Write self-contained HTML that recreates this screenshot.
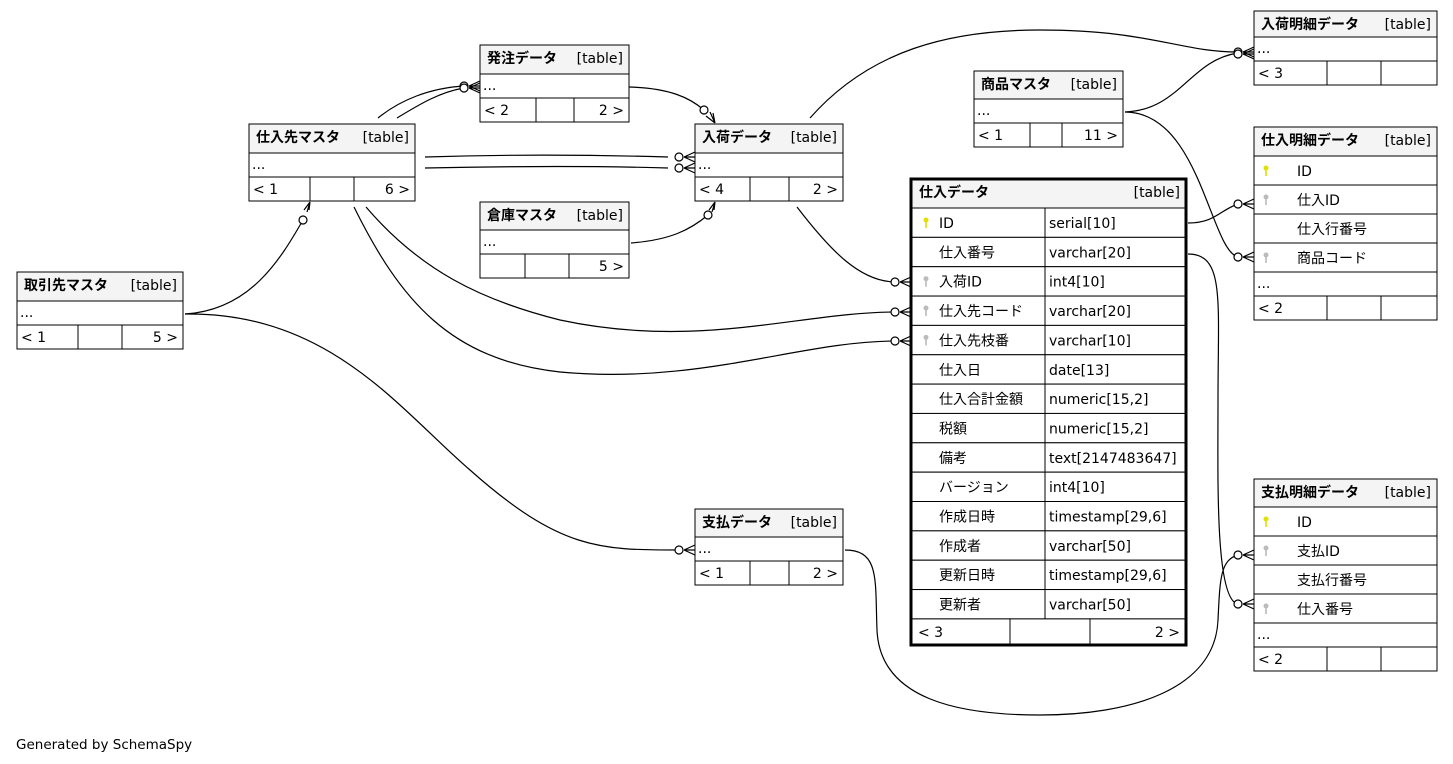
<!DOCTYPE html>
<html><head><meta charset="utf-8"><style>
html,body{margin:0;padding:0;background:#fff;width:1453px;height:764px;overflow:hidden}
svg text{font-family:"DejaVu Sans","Liberation Sans","Noto Sans CJK JP",sans-serif;font-size:14px;fill:#000}
</style></head><body>
<svg id="s" width="1453" height="764" xmlns="http://www.w3.org/2000/svg">
<g fill="none" stroke="#000" stroke-width="1.2">
<path d="M378,118 C400,100 430,88 464,86"/>
<path d="M397,118 C420,104 440,92 464,88"/>
<path d="M425,157 C520,154 600,155 668,157"/>
<path d="M425,168 C520,166 600,166 668,168"/>
<path d="M629,87 C670,88 690,98 704,110"/>
<path d="M631,243 C670,240 690,230 708,215"/>
<path d="M185,314 C250,310 280,260 303,220"/>
<path d="M185,314 C330,312 400,410 470,470 C560,550 600,550 678,550"/>
<path d="M366,207 C420,270 480,300 560,320 C700,350 800,312 896,312"/>
<path d="M354,207 C400,300 450,360 560,372 C700,385 800,341 896,341"/>
<path d="M797,207 C830,250 860,282 896,282"/>
<path d="M810,118 C870,50 950,30 1040,30 C1150,30 1180,52 1238,52"/>
<path d="M1125,112 C1180,110 1190,60 1238,53"/>
<path d="M1125,112 C1200,112 1210,250 1238,257"/>
<path d="M1188,223 C1215,223 1220,210 1238,204"/>
<path d="M1188,254 C1225,254 1218,300 1218,400 C1218,480 1215,600 1238,604"/>
<path d="M845,550 C880,550 875,580 877,630 C880,700 960,715 1040,715 C1130,715 1215,690 1218,620 C1220,580 1220,560 1238,555"/>
</g>
<g id="marks" fill="#fff" stroke="#000" stroke-width="1.2"></g>
<g id="tables"></g>
<text x="16" y="749" style="font-size:13.5px">Generated by SchemaSpy</text>
</svg>
<script>
var NS="http://www.w3.org/2000/svg";
function el(p,t,a,txt){var e=document.createElementNS(NS,t);for(var k in a)e.setAttribute(k,a[k]);if(txt!=null)e.textContent=txt;p.appendChild(e);return e;}
var T=document.getElementById('tables'),M=document.getElementById('marks');
// crow + circle, horizontal into table at x (table edge), direction d=+1 (pointing right)
function crowH(x,y){el(M,'circle',{cx:x-16,cy:y,r:4});el(M,'path',{d:'M'+(x-11)+','+y+' L'+x+','+(y-5)+' M'+(x-11)+','+y+' L'+x+','+y+' M'+(x-11)+','+y+' L'+x+','+(y+5),fill:'none'});}
function crowV(x,y,dy){ // dy=-1 means table above (arrow pointing up)
 var cy=y-dy*16; el(M,'circle',{cx:x,cy:cy,r:4});
 var vy=y-dy*11; el(M,'path',{d:'M'+x+','+vy+' L'+(x-5)+','+y+' M'+x+','+vy+' L'+x+','+y+' M'+x+','+vy+' L'+(x+5)+','+y,fill:'none'});}
crowH(480,86);crowH(480,88);crowH(695,157);crowH(695,168);crowH(1254,52);crowH(1254,54);
crowH(911,282);crowH(911,312);crowH(911,341);crowH(695,550);crowH(1254,204);crowH(1254,257);crowH(1254,555);crowH(1254,604);
el(M,'circle',{cx:704,cy:110,r:4});el(M,'path',{d:'M715,123 L710,112 M715,123 L706,116 M715,123 L713,113',fill:'none'});
el(M,'circle',{cx:708,cy:215,r:4});el(M,'path',{d:'M715,202 L709,210 M715,202 L712,212 M715,202 L714,210',fill:'none'});
el(M,'circle',{cx:303,cy:220,r:4});el(M,'path',{d:'M310,202 L304,210 M310,202 L307,212 M310,202 L309,210',fill:'none'});
function small(x,y,w,name,hh,l,mid,r,divs,rows){
 var g=el(T,'g',{});
 var rh=rows||[];
 el(g,'rect',{x:x,y:y,width:w,height:hh,fill:'#f4f4f4',stroke:'#000'});
 el(g,'text',{x:x+7,y:y+18,'font-weight':'bold'},name);
 el(g,'text',{x:x+w-6,y:y+18,'text-anchor':'end'},'[table]');
 var cy=y+hh;
 rh.forEach(function(r){el(g,'rect',{x:x,y:cy,width:w,height:29,fill:'#fff',stroke:'#000'});
  var kx=x+12; if(r[1]){var c=r[1];el(g,'circle',{cx:kx,cy:cy+12,r:2.5,fill:c,stroke:'none'});el(g,'rect',{x:kx-0.8,y:cy+12,width:1.6,height:8,fill:c,stroke:'none'});}
  el(g,'text',{x:x+43,y:cy+20},r[0]);cy+=29;});
 el(g,'rect',{x:x,y:cy,width:w,height:24,fill:'#fff',stroke:'#000'});
 el(g,'text',{x:x+3,y:cy+16},'...');cy+=24;
 el(g,'rect',{x:x,y:cy,width:w,height:24,fill:'#fff',stroke:'#000'});
 divs.forEach(function(d){el(g,'line',{x1:d,y1:cy,x2:d,y2:cy+24,stroke:'#000'});});
 if(l)el(g,'text',{x:x+4,y:cy+17},l);
 if(r)el(g,'text',{x:x+w-5,y:cy+17,'text-anchor':'end'},r);
}
small(480,45,149,'発注データ',29,'< 2','','2 >',[536,574]);
small(249,124,166,'仕入先マスタ',29,'< 1','','6 >',[310,354]);
small(695,124,148,'入荷データ',29,'< 4','','2 >',[750,789]);
small(480,202,149,'倉庫マスタ',28,'','','5 >',[525,569]);
small(17,272,166,'取引先マスタ',29,'< 1','','5 >',[78,122]);
small(974,71,149,'商品マスタ',28,'< 1','','11 >',[1030,1062]);
small(1254,11,183,'入荷明細データ',26,'< 3','','',[1327,1381]);
small(1254,127,183,'仕入明細データ',29,'< 2','','',[1327,1381],[['ID','#e0e000'],['仕入ID','#bbb'],['仕入行番号',null],['商品コード','#bbb']]);
small(1254,479,183,'支払明細データ',28,'< 2','','',[1327,1381],[['ID','#e0e000'],['支払ID','#bbb'],['支払行番号',null],['仕入番号','#bbb']]);
small(695,509,148,'支払データ',28,'< 1','','2 >',[750,789]);
// main table
(function(){var x=911,y=179,w=275;var g=el(T,'g',{});
 el(g,'rect',{x:x,y:y,width:w,height:29,fill:'#f4f4f4',stroke:'#000'});
 el(g,'text',{x:x+8,y:y+18,'font-weight':'bold'},'仕入データ');
 el(g,'text',{x:x+w-6,y:y+18,'text-anchor':'end'},'[table]');
 var rows=[['ID','serial[10]','#e0e000'],['仕入番号','varchar[20]'],['入荷ID','int4[10]','#bbb'],['仕入先コード','varchar[20]','#bbb'],['仕入先枝番','varchar[10]','#bbb'],['仕入日','date[13]'],['仕入合計金額','numeric[15,2]'],['税額','numeric[15,2]'],['備考','text[2147483647]'],['バージョン','int4[10]'],['作成日時','timestamp[29,6]'],['作成者','varchar[50]'],['更新日時','timestamp[29,6]'],['更新者','varchar[50]']];
 var cy=208,h=29.35;
 rows.forEach(function(r){el(g,'rect',{x:x,y:cy,width:134,height:h,fill:'#fff',stroke:'#000'});
  el(g,'rect',{x:x+134,y:cy,width:w-134,height:h,fill:'#fff',stroke:'#000'});
  if(r[2]){el(g,'circle',{cx:x+15,cy:cy+12,r:2.5,fill:r[2]});el(g,'rect',{x:x+14.2,y:cy+12,width:1.6,height:8,fill:r[2]});}
  el(g,'text',{x:x+28,y:cy+20},r[0]);el(g,'text',{x:x+138,y:cy+20},r[1]);cy+=h;});
 el(g,'rect',{x:x,y:cy,width:w,height:645-cy,fill:'#fff',stroke:'#000'});
 el(g,'line',{x1:1010,y1:cy,x2:1010,y2:645,stroke:'#000'});el(g,'line',{x1:1090,y1:cy,x2:1090,y2:645,stroke:'#000'});
 el(g,'text',{x:x+7,y:cy+18},'< 3');el(g,'text',{x:x+w-6,y:cy+18,'text-anchor':'end'},'2 >');
 el(g,'rect',{x:x,y:y,width:w,height:645-y,fill:'none',stroke:'#000','stroke-width':3});
})();
</script>
</body></html>
